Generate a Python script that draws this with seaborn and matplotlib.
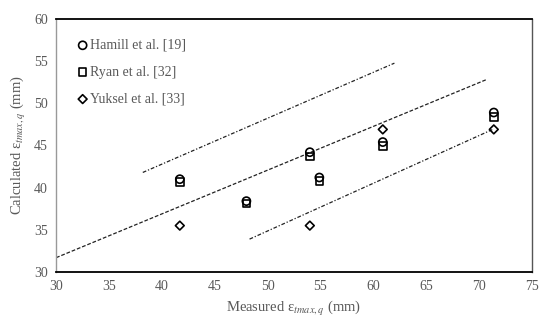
import numpy as np
import pandas as pd
import seaborn as sns
import matplotlib.pyplot as plt

# valores
medido = [41.7, 48.0, 54.0, 54.9, 60.9, 71.4]
hamill = [41.0, 38.4, 44.2, 41.2, 45.4, 48.9]
ryan = [40.7, 38.1, 43.7, 40.8, 44.9, 48.4]
yuksel_x = [41.7, 54.0, 60.9, 71.4]
yuksel_y = [35.5, 35.5, 46.9, 46.9]

# linhas de referencia (extremidades)
sup_x = [38.2, 62.0]
sup_y = [41.8, 54.75]
med_x = [30.0, 70.7]
med_y = [31.7, 52.8]
inf_x = [48.3, 71.3]
inf_y = [33.9, 46.9]

series = ['Hamill et al. [19]', 'Ryan et al. [32]', 'Yuksel et al. [33]']

df = pd.concat([
    pd.DataFrame({'x': medido, 'y': hamill, 'fonte': series[0]}),
    pd.DataFrame({'x': medido, 'y': ryan, 'fonte': series[1]}),
    pd.DataFrame({'x': yuksel_x, 'y': yuksel_y, 'fonte': series[2]}),
])

sns.set_style('white')
plt.rcParams['font.family'] = ['Liberation Serif', 'DejaVu Serif']
plt.rcParams['mathtext.fontset'] = 'stix'

cinza = '#595959'
fig = plt.figure(figsize=(5.5, 3.25), dpi=100)
ax = fig.add_axes([0.102, 0.163, 0.865, 0.779])

# linhas
sns.lineplot(x=med_x, y=med_y, ax=ax, color='#222222', lw=0.9)
ax.lines[-1].set_dashes([3, 1.5])
sns.lineplot(x=sup_x, y=sup_y, ax=ax, color='#222222', lw=0.9)
ax.lines[-1].set_dashes([3, 1.5, 1, 1.5])
sns.lineplot(x=inf_x, y=inf_y, ax=ax, color='#222222', lw=0.9)
ax.lines[-1].set_dashes([3, 1.5, 1, 1.5])

marcadores = {series[0]: 'o', series[1]: 's', series[2]: 'D'}
tamanhos = {series[0]: 34, series[1]: 30, series[2]: 20}
for s in series:
    sub = df[df['fonte'] == s]
    sns.scatterplot(data=sub, x='x', y='y', ax=ax, marker=marcadores[s],
                    s=tamanhos[s], facecolor='none', edgecolor='black',
                    linewidth=1.2, label=s, zorder=3)

ax.set_xlim(30, 75)
ax.set_ylim(30, 60)
ax.set_xticks(np.arange(30, 76, 5))
ax.set_yticks(np.arange(30, 61, 5))
ax.tick_params(length=0, labelsize=10, labelcolor=cinza, pad=6)

ax.set_xlabel('Measured ε$_{tmax,q}$ (mm)', fontsize=10.5, color=cinza, labelpad=4)
ax.set_ylabel('Calculated ε$_{tmax,q}$ (mm)', fontsize=10.5, color=cinza, labelpad=4)

ax.spines['left'].set_color('#999999')
ax.spines['right'].set_color('#555555')
ax.spines['top'].set_color('black')
ax.spines['bottom'].set_color('black')
for lado in ['top', 'bottom']:
    ax.spines[lado].set_linewidth(1.3)
for lado in ['left', 'right']:
    ax.spines[lado].set_linewidth(1.0)

leg = ax.legend(loc='upper left', bbox_to_anchor=(0.012, 0.97), frameon=False,
                fontsize=10, handletextpad=-0.1, labelspacing=1.0,
                handlelength=1.2)
for t in leg.get_texts():
    t.set_color(cinza)

plt.savefig('out.png', dpi=100)
